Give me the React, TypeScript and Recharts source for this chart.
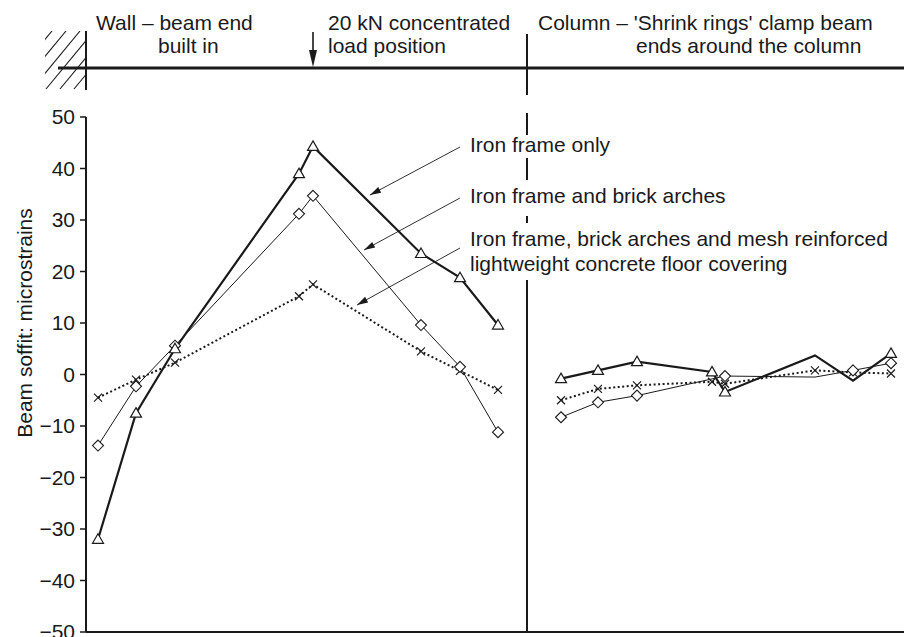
import React from 'react';
import { LineChart, Line, XAxis, YAxis } from 'recharts';

const FONT = '"Liberation Sans", Arial, Helvetica, sans-serif';
const INK = '#1a1a1a';

// Gauge positions along the beam (plot units), wall at 0, column at 441
const leftPositions = [12, 50, 89, 213, 227, 335, 374, 412];
const rightPositions = [475, 512, 551, 626, 639, 729, 767, 805];
const columnPosition = 441;
const loadPosition = 227;

const yTicks = [-50, -40, -30, -20, -10, 0, 10, 20, 30, 40, 50];

// Iron frame only
const ironOnlyLeft = [-32, -7.5, 5, 39, 44.3, 23.5, 18.8, 9.6];
const ironOnlyRight = [-0.8, 0.8, 2.5, 0.5, -3.4, 3.7, -1.2, 4.1];
const ironOnlyRightMarked = [true, true, true, true, true, false, false, true];

// Iron frame and brick arches
const archesLeft = [-13.8, -2.3, 5.6, 31.2, 34.7, 9.6, 1.5, -11.2];
const archesRight = [-8.3, -5.4, -4.1, null, -0.3, -0.5, 0.8, 2.2];
const archesRightMarked = [true, true, true, false, true, false, true, true];

// Iron frame, brick arches and mesh reinforced lightweight concrete floor covering
const floorLeft = [-4.5, -1, 2.3, 15.2, 17.5, 4.5, 0.7, -3];
const floorRight = [-5.0, -2.8, -2.1, -1.4, -1.8, 0.8, 0.4, 0.2];
const floorRightMarked = [true, true, true, true, true, true, true, true];

type Pt = { x: number; y: number | null; m: boolean };

function build(left: number[], right: (number | null)[], rightMarked: boolean[]): Pt[] {
  const pts: Pt[] = [];
  leftPositions.forEach((x, i) => pts.push({ x, y: left[i], m: true }));
  pts.push({ x: columnPosition, y: null, m: false });
  rightPositions.forEach((x, i) => {
    const v = right[i];
    if (v !== null && v !== undefined) pts.push({ x, y: v, m: rightMarked[i] });
  });
  return pts;
}

const ironOnlyData = build(ironOnlyLeft, ironOnlyRight, ironOnlyRightMarked);
const archesData = build(archesLeft, archesRight, archesRightMarked);
const floorData = build(floorLeft, floorRight, floorRightMarked);

const TriDot = (props: any) => {
  const { cx, cy, payload, index } = props;
  if (cy == null || cx == null || !payload || !payload.m || payload.y == null) return <g key={`t${index}`} />;
  return (
    <path
      key={`t${index}`}
      d={`M${cx},${cy - 5.5} L${cx + 5.5},${cy + 4} L${cx - 5.5},${cy + 4} Z`}
      fill="#fff"
      stroke={INK}
      strokeWidth={1.2}
    />
  );
};

const DiaDot = (props: any) => {
  const { cx, cy, payload, index } = props;
  if (cy == null || cx == null || !payload || !payload.m || payload.y == null) return <g key={`d${index}`} />;
  return (
    <path
      key={`d${index}`}
      d={`M${cx},${cy - 5.5} L${cx + 5.5},${cy} L${cx},${cy + 5.5} L${cx - 5.5},${cy} Z`}
      fill="#fff"
      stroke={INK}
      strokeWidth={1.1}
    />
  );
};

const CrossDot = (props: any) => {
  const { cx, cy, payload, index } = props;
  if (cy == null || cx == null || !payload || !payload.m || payload.y == null) return <g key={`c${index}`} />;
  return (
    <path
      key={`c${index}`}
      d={`M${cx - 4},${cy - 4} L${cx + 4},${cy + 4} M${cx - 4},${cy + 4} L${cx + 4},${cy - 4}`}
      stroke={INK}
      strokeWidth={1.2}
      fill="none"
    />
  );
};

function arrowHead(x1: number, y1: number, x2: number, y2: number, len = 11, half = 3.2) {
  const dx = x2 - x1;
  const dy = y2 - y1;
  const d = Math.sqrt(dx * dx + dy * dy);
  const ux = dx / d;
  const uy = dy / d;
  const bx = x2 - ux * len;
  const by = y2 - uy * len;
  const px = -uy * half;
  const py = ux * half;
  return `${x2},${y2} ${bx + px},${by + py} ${bx - px},${by - py}`;
}

const annotations = [
  { lines: ['Iron frame only'], baseline: 152, from: [460, 147], to: [370, 195] },
  { lines: ['Iron frame and brick arches'], baseline: 203, from: [460, 198], to: [364, 250] },
  {
    lines: ['Iron frame, brick arches and mesh reinforced', 'lightweight concrete floor covering'],
    baseline: 246,
    from: [460, 248],
    to: [357, 305],
  },
];

const dividerSegments = [
  [34, 95],
  [113, 135],
  [158, 180],
  [216, 223],
  [280, 632],
];

const hatchStarts = [-10, 4, 18, 32, 46, 60, 74];

const Overlay = () => (
  <svg
    width={904}
    height={637}
    style={{ position: 'absolute', left: 0, top: 0, pointerEvents: 'none' }}
    fontFamily={FONT}
  >
    <defs>
      <clipPath id="wallClip">
        <rect x={45} y={31} width={41} height={59} />
      </clipPath>
    </defs>
    {/* wall hatch */}
    <g clipPath="url(#wallClip)">
      {hatchStarts.map((x0) => (
        <line key={x0} x1={x0} y1={89} x2={x0 + 48} y2={31} stroke={INK} strokeWidth={1.1} />
      ))}
    </g>
    <line x1={86} y1={31} x2={86} y2={90} stroke={INK} strokeWidth={2} />
    {/* beam */}
    <line x1={58} y1={68} x2={904} y2={68} stroke={INK} strokeWidth={3} />
    {/* load arrow */}
    <line x1={86 + loadPosition} y1={32} x2={86 + loadPosition} y2={55} stroke={INK} strokeWidth={1.6} />
    <polygon
      points={`${86 + loadPosition},67 ${86 + loadPosition - 4},50 ${86 + loadPosition + 4},50`}
      fill={INK}
    />
    {/* column divider */}
    {dividerSegments.map(([a, b]) => (
      <line key={a} x1={86 + columnPosition} y1={a} x2={86 + columnPosition} y2={b} stroke={INK} strokeWidth={2} />
    ))}
    {/* header texts */}
    <g fontSize={21} fill={INK}>
      <text x={96} y={30}>Wall – beam end</text>
      <text x={158} y={53}>built in</text>
      <text x={328} y={30}>20 kN concentrated</text>
      <text x={328} y={53}>load position</text>
      <text x={538} y={30}>Column – 'Shrink rings' clamp beam</text>
      <text x={636} y={53}>ends around the column</text>
    </g>
    {/* y-axis title */}
    <text
      transform="translate(32,323) rotate(-90)"
      textAnchor="middle"
      fontSize={21}
      fill={INK}
    >
      Beam soffit: microstrains
    </text>
    {/* series annotations */}
    {annotations.map((a, i) => (
      <g key={i}>
        <line x1={a.from[0]} y1={a.from[1]} x2={a.to[0]} y2={a.to[1]} stroke={INK} strokeWidth={0.9} />
        <polygon points={arrowHead(a.from[0], a.from[1], a.to[0], a.to[1])} fill={INK} />
        {a.lines.map((t, j) => (
          <text key={j} x={470} y={a.baseline + j * 25} fontSize={21} fill={INK}>
            {t}
          </text>
        ))}
      </g>
    ))}
  </svg>
);

const fmt = (v: number) => (v < 0 ? `\u2212${Math.abs(v)}` : `${v}`);

export default function App() {
  return (
    <div style={{ position: 'absolute', left: 0, top: 0, width: 904, height: 637, background: '#fff' }}>
      <LineChart
        width={904}
        height={637}
        margin={{ top: 117, right: 0, bottom: 0, left: 0 }}
      >
        <XAxis
          type="number"
          dataKey="x"
          domain={[0, 818]}
          allowDataOverflow
          tick={false}
          tickLine={false}
          height={5}
          axisLine={{ stroke: INK, strokeWidth: 2 }}
        />
        <YAxis
          type="number"
          domain={[-50, 50]}
          ticks={yTicks}
          width={86}
          interval={0}
          tickSize={6}
          tickMargin={5}
          tickFormatter={fmt}
          axisLine={{ stroke: INK, strokeWidth: 2 }}
          tickLine={{ stroke: INK, strokeWidth: 1.5 }}
          tick={{ fill: INK, fontSize: 21, fontFamily: FONT }}
        />
        <Line
          data={floorData}
          dataKey="y"
          type="linear"
          stroke={INK}
          strokeWidth={2}
          strokeDasharray="2 2.5"
          dot={CrossDot}
          activeDot={false}
          connectNulls={false}
          isAnimationActive={false}
        />
        <Line
          data={archesData}
          dataKey="y"
          type="linear"
          stroke={INK}
          strokeWidth={1}
          dot={DiaDot}
          activeDot={false}
          connectNulls={false}
          isAnimationActive={false}
        />
        <Line
          data={ironOnlyData}
          dataKey="y"
          type="linear"
          stroke={INK}
          strokeWidth={2.2}
          dot={TriDot}
          activeDot={false}
          connectNulls={false}
          isAnimationActive={false}
        />
      </LineChart>
      <Overlay />
    </div>
  );
}
